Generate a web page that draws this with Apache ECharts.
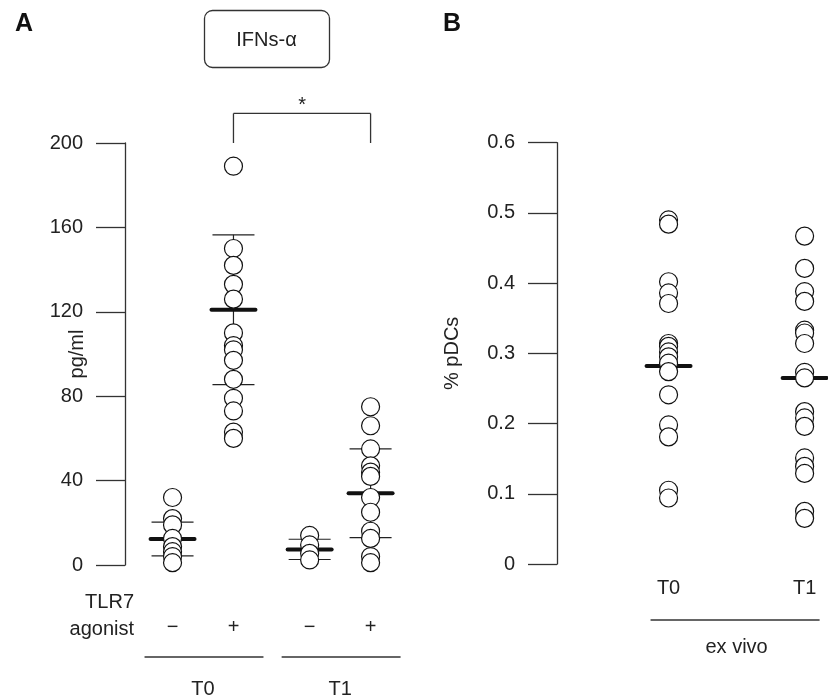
<!DOCTYPE html>
<html><head><meta charset="utf-8">
<script src="https://cdn.jsdelivr.net/npm/echarts@6/dist/echarts.min.js"></script>
<style>html,body{margin:0;padding:0;background:#fff}#c{width:828px;height:700px}</style>
</head><body><div id="c"></div>
<script>
// ---- Panel A data (IFNs-alpha, pg/ml) ----
const groupsA = ['T0 −', 'T0 +', 'T1 −', 'T1 +'];
const agonistLabels = ['−', '+', '−', '+'];
const timeLabelsA = ['T0', 'T1'];
const t0Minus = [32, 22, 19, 12.6, 8.7, 6.3, 4, 1.1];
const t0Plus = [189, 150, 142, 133, 126, 110, 104, 102, 97, 88, 79, 73, 63, 60];
const t1Minus = [14, 9.5, 5.5, 2.4];
const t1Plus = [75, 66, 55, 47, 44, 42, 32, 25, 16, 12.6, 4, 1.1];
const meansA = [12.3, 121, 7.4, 34];
const sdA = [8, 35.5, 4.8, 21];
const yTicksA = [0, 40, 80, 120, 160, 200];

// ---- Panel B data (% pDCs ex vivo) ----
const groupsB = ['T0', 'T1'];
const pdcT0 = [0.49, 0.484, 0.402, 0.386, 0.371, 0.314, 0.31, 0.302, 0.295, 0.286, 0.274, 0.241, 0.198, 0.181, 0.105, 0.094];
const pdcT1 = [0.467, 0.421, 0.388, 0.374, 0.333, 0.329, 0.314, 0.273, 0.265, 0.217, 0.208, 0.196, 0.151, 0.139, 0.129, 0.075, 0.065];
const meansB = [0.282, 0.265];
const yTicksB = [0, 0.1, 0.2, 0.3, 0.4, 0.5, 0.6];

// layout positions of groups along x (not data)
const posA = [0, 1, 2.25, 3.25];
const posB = [0, 1];

const FONT = '"Liberation Sans", Arial, Helvetica, sans-serif';
const INK = '#222';

const valsA = [t0Minus, t0Plus, t1Minus, t1Plus];
const valsB = [pdcT0, pdcT1];

function scatterSeries(vals, pos, xi, yi, name) {
  return {
    type: 'scatter', name: name, xAxisIndex: xi, yAxisIndex: yi, z: 3,
    symbol: 'circle', symbolSize: 18,
    itemStyle: { color: '#fff', borderColor: '#111', borderWidth: 1.2, opacity: 1 },
    data: vals.map(v => [pos, v]),
    animation: false
  };
}

function errRender(params, api) {
  const x = api.value(0), m = api.value(1), sd = api.value(2);
  const c = api.coord([x, m]);
  const children = [];
  const hw = 22;
  if (sd > 0) {
    const top = api.coord([x, m + sd]), bot = api.coord([x, m - sd]);
    const st = { stroke: INK, lineWidth: 1.2 };
    children.push({ type: 'line', shape: { x1: c[0], y1: top[1], x2: c[0], y2: bot[1] }, style: st });
    children.push({ type: 'line', shape: { x1: c[0] - 21, y1: top[1], x2: c[0] + 21, y2: top[1] }, style: st });
    children.push({ type: 'line', shape: { x1: c[0] - 21, y1: bot[1], x2: c[0] + 21, y2: bot[1] }, style: st });
  }
  children.push({ type: 'line', shape: { x1: c[0] - hw, y1: c[1], x2: c[0] + hw, y2: c[1] },
    style: { stroke: '#111', lineWidth: 4, lineCap: 'round' } });
  return { type: 'group', children: children };
}

function yAxisCfg(gi, min, max, interval, name, nameGap, fmt) {
  return {
    gridIndex: gi, type: 'value', min: min, max: max, interval: interval,
    name: name, nameLocation: 'middle', nameRotate: 90, nameGap: nameGap, nameMoveOverlap: false,
    nameTextStyle: { fontSize: 20, color: INK, fontFamily: FONT },
    axisLine: { show: true, onZero: false, lineStyle: { color: '#333', width: 1.3 } },
    axisTick: { show: true, inside: false, length: 29, lineStyle: { color: '#333', width: 1.3 } },
    splitLine: { show: false },
    axisLabel: { fontSize: 20, color: INK, fontFamily: FONT, margin: 42, formatter: fmt }
  };
}

const chart = echarts.init(document.getElementById('c'), null, { renderer: 'canvas' });

const series = [];
series.push({
  type: 'custom', xAxisIndex: 0, yAxisIndex: 0, z: 1, renderItem: errRender,
  data: meansA.map((m, i) => [posA[i], m, sdA[i]]), animation: false, silent: true
});
valsA.forEach((v, i) => series.push(scatterSeries(v, posA[i], 0, 0, groupsA[i])));
series.push({
  type: 'custom', xAxisIndex: 1, yAxisIndex: 1, z: 1, renderItem: errRender,
  data: meansB.map((m, i) => [posB[i], m, 0]), animation: false, silent: true
});
valsB.forEach((v, i) => series.push(scatterSeries(v, posB[i], 1, 1, groupsB[i])));

chart.setOption({
  backgroundColor: '#fff',
  animation: false,
  textStyle: { fontFamily: FONT },
  grid: [
    { left: 125, top: 143, width: 273, bottom: 135, containLabel: false },
    { left: 557, top: 142.7, width: 268, bottom: 136, containLabel: false }
  ],
  xAxis: [
    { gridIndex: 0, type: 'value', min: -0.78, max: 3.7, show: false },
    { gridIndex: 1, type: 'value', min: -0.82, max: 1.15, show: false }
  ],
  yAxis: [
    yAxisCfg(0, yTicksA[0], yTicksA[yTicksA.length - 1], 40, 'pg/ml', 38, v => String(v)),
    yAxisCfg(1, yTicksB[0], yTicksB[yTicksB.length - 1], 0.1, '% pDCs', 95, v => (v === 0 ? '0' : v.toFixed(1)))
  ],
  series: series
});

// ---- annotations positioned through the axes ----
const px = (gi, x, y) => chart.convertToPixel({ gridIndex: gi }, [x, y]);
const g = [];
const txt = (x, y, s, size, extra) => g.push(Object.assign({
  type: 'text', x: x, y: y,
  style: Object.assign({ text: s, fontSize: size, fill: INK, fontFamily: FONT, align: 'center', verticalAlign: 'middle' }, extra || {})
}));
const line = (x1, y1, x2, y2, w) => g.push({ type: 'line', shape: { x1, y1, x2, y2 }, style: { stroke: '#333', lineWidth: w || 1.3 } });

// panel letters
txt(24, 24, 'A', 25, { fontWeight: 'bold', fill: '#111' });
txt(452, 24, 'B', 25, { fontWeight: 'bold', fill: '#111' });

// title box
g.push({ type: 'rect', shape: { x: 204.5, y: 10.5, width: 125, height: 57, r: 8 }, style: { fill: 'none', stroke: '#333', lineWidth: 1.3 } });
txt(266.5, 40, 'IFNs-α', 20);

// significance bracket between T0 + and T1 +
const b1 = px(0, posA[1], 214), b2 = px(0, posA[3], 214), b1b = px(0, posA[1], 200);
line(b1[0], b1[1], b2[0], b2[1]);
line(b1[0], b1[1], b1[0], b1b[1]);
line(b2[0], b2[1], b2[0], b1b[1]);
txt((b1[0] + b2[0]) / 2, b1[1] - 8, '*', 20);

// panel A bottom labels
txt(134, 602, 'TLR7', 20, { align: 'right' });
txt(134, 629, 'agonist', 20, { align: 'right' });
agonistLabels.forEach((s, i) => { const p = px(0, posA[i], 0); txt(p[0], 627, s, 20); });
[[0, 1], [2, 3]].forEach((pair, k) => {
  const pa = px(0, posA[pair[0]], 0), pb = px(0, posA[pair[1]], 0);
  line(pa[0] - 28, 657, pb[0] + 30, 657);
  txt((pa[0] + pb[0]) / 2, 689, timeLabelsA[k], 20);
});

// panel B bottom labels
groupsB.forEach((s, i) => { const p = px(1, posB[i], 0); txt(p[0], 588, s, 20); });
const q0 = px(1, posB[0], 0), q1 = px(1, posB[1], 0);
line(q0[0] - 18, 620, q1[0] + 15, 620);
txt((q0[0] + q1[0]) / 2, 647, 'ex vivo', 20);

chart.setOption({ graphic: g });
</script>
</body></html>
